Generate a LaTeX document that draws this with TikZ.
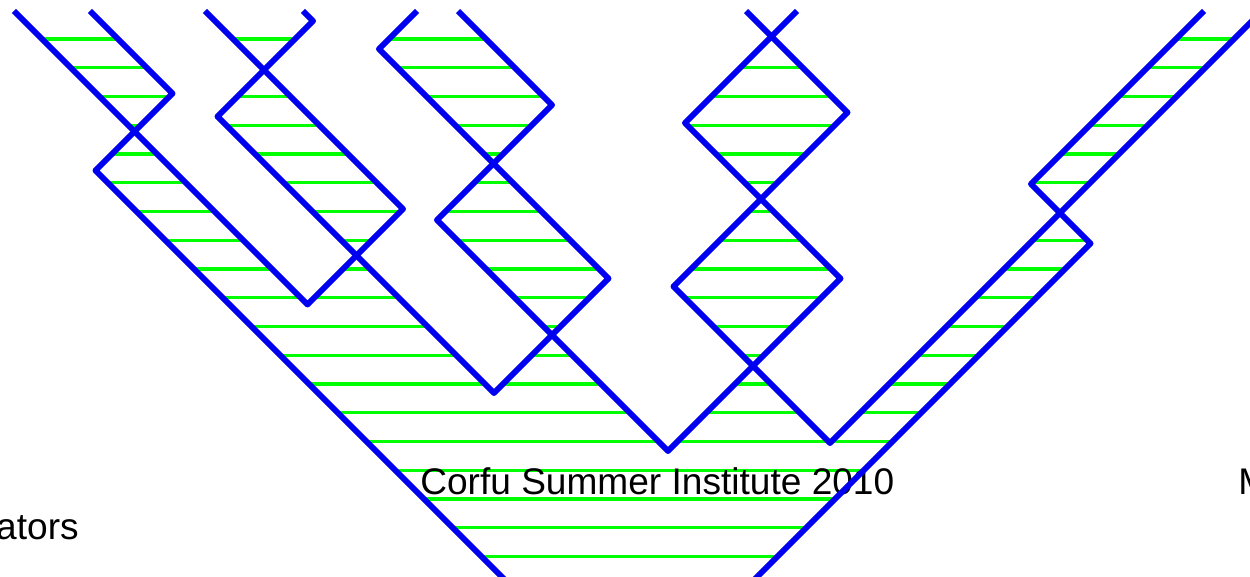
\documentclass[tikz,border=0pt]{standalone}
\usepackage{fontspec}
\setmainfont{Liberation Sans}
\usepackage{xcolor}
\usepackage{tikz}
\usetikzlibrary{positioning}
\definecolor{sheetblue}{RGB}{0,0,240}
\definecolor{hatchgreen}{RGB}{0,255,0}

\begin{document}
\begin{tikzpicture}[
    x=0.02cm, y=-0.02cm,
    boundary/.style={draw=sheetblue, line width=3.4pt, line join=round},
    hatch/.style={draw=hatchgreen, line width=1.8pt},
    caption/.style={inner sep=0pt, font=\fontsize{21.1}{25}\selectfont}
]
\useasboundingbox (0,0) rectangle (1250,577);
\clip (0,0) rectangle (1250,577);

\begin{scope}[even odd rule]
\clip
    (14,11) -- (307.5,304.5) -- (403,209) -- (205,11) -- cycle
    (303,11) -- (313,21) -- (217.5,116.5) -- (494,393) -- (608.5,278.5) -- (379,49) -- (417,11) -- cycle
    (458,11) -- (552,105) -- (437,220) -- (668,451) -- (840.5,278.5) -- (685,123) -- (797,11) -- cycle
    (746,11) -- (847.5,112.5) -- (673.5,286.5) -- (830,443) -- (1262,11) -- cycle
    (90,11) -- (172.5,93.5) -- (95.5,170.5) -- (515,590) -- (744,590) -- (1090.5,243.5) -- (1031,184) -- (1204,11) -- cycle;
\foreach \k in {0,...,18}
    \draw[hatch] (0,{39+28.75*\k}) -- (1250,{39+28.75*\k});
\end{scope}

\node[caption, anchor=base west] (title) at (420,494) {Corfu Summer Institute 2010};
\node[caption, anchor=base west] (initial) at (1238,494) {M};
\node[caption, anchor=base east] (tailword) at (79,539) {ators};

\draw[boundary] (14,11) -- (307.5,304.5) -- (403,209) -- (205,11);
\draw[boundary] (90,11) -- (172.5,93.5) -- (95.5,170.5) -- (515,590);
\draw[boundary] (303,11) -- (313,21) -- (217.5,116.5) -- (494,393) -- (608.5,278.5) -- (379,49) -- (417,11);
\draw[boundary] (458,11) -- (552,105) -- (437,220) -- (668,451) -- (840.5,278.5) -- (685,123) -- (797,11);
\draw[boundary] (746,11) -- (847.5,112.5) -- (673.5,286.5) -- (830,443) -- (1262,11);
\draw[boundary] (1204,11) -- (1031,184) -- (1090.5,243.5) -- (744,590);
\end{tikzpicture}
\end{document}
